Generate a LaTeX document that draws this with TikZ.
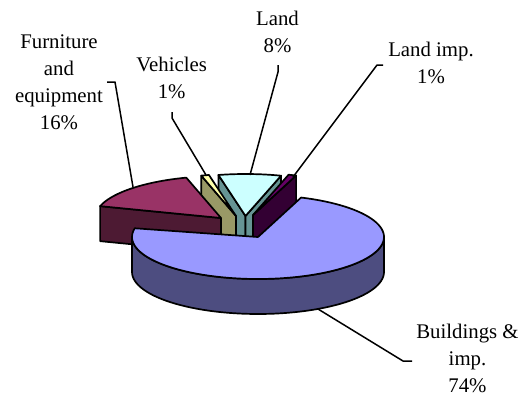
\documentclass[tikz,border=0pt]{standalone}
\usepackage{fontspec}
\setmainfont{Liberation Serif}
\definecolor{bldtop}{RGB}{153,153,255}
\definecolor{bldside}{RGB}{77,77,128}
\definecolor{furtop}{RGB}{153,51,102}
\definecolor{furside}{RGB}{77,26,51}
\definecolor{vehtop}{RGB}{255,255,170}
\definecolor{vehside}{RGB}{153,153,102}
\definecolor{landtop}{RGB}{204,255,255}
\definecolor{landside}{RGB}{102,148,148}
\definecolor{limptop}{RGB}{102,0,102}
\definecolor{limpside}{RGB}{51,0,51}
\tikzset{
  face/.style={draw=black, line width=1.7pt, line join=round},
  leader/.style={draw=black, line width=1.5pt, line join=round},
  lbl/.style={align=center, inner sep=0pt, anchor=north, font=\fontsize{20.8}{27}\selectfont}
}
\begin{document}
\begin{tikzpicture}[x=1pt, y=-1pt]
\useasboundingbox (0,0) rectangle (524,397);
% Land 8%
\begin{scope}[shift={(245.5,216)}]
  \filldraw[face, fill=landside] (0,0) -- ({126*cos(102.4)},{-42*sin(102.4)}) -- ++(0,35) -- (0,35) -- cycle;
  \filldraw[face, fill=landside] (0,0) -- ({126*cos(73.6)},{-42*sin(73.6)}) -- ++(0,35) -- (0,35) -- cycle;
  \filldraw[face, fill=landtop] (0,0) -- plot[domain=73.6:102.4, samples=20] ({126*cos(\x)},{-42*sin(\x)}) -- cycle;
\end{scope}
% Land imp. 1%
\begin{scope}[shift={(253,215)}]
  \filldraw[face, fill=limpside] (0,0) -- ({126*cos(70)},{-42*sin(70)}) -- ++(0,35) -- (0,35) -- cycle;
  \filldraw[face, fill=limptop] (0,0) -- plot[domain=70:73.6, samples=5] ({126*cos(\x)},{-42*sin(\x)}) -- cycle;
\end{scope}
% Vehicles 1%
\begin{scope}[shift={(236,216)}]
  \filldraw[face, fill=vehside] (0,0) -- ({126*cos(106)},{-42*sin(106)}) -- ++(0,35) -- (0,35) -- cycle;
  \filldraw[face, fill=vehtop] (0,0) -- plot[domain=102.4:106, samples=5] ({126*cos(\x)},{-42*sin(\x)}) -- cycle;
\end{scope}
% Furniture and equipment 16%
\begin{scope}[shift={(221,218)}]
  \filldraw[face, fill=furside] (0,0) -- ({126*cos(163.6)},{-42*sin(163.6)}) -- ++(0,35) -- (0,35) -- cycle;
  \filldraw[face, fill=furtop] (0,0) -- plot[domain=106:163.6, samples=30] ({126*cos(\x)},{-42*sin(\x)}) -- cycle;
\end{scope}
% Buildings & imp. 74%
\begin{scope}[shift={(258,237)}]
  \filldraw[face, fill=bldside] plot[domain=180:360, samples=60] ({126*cos(\x)},{-42*sin(\x)})
     -- plot[domain=180:360, samples=60] ({126*cos(540-\x)},{35-42*sin(540-\x)}) -- cycle;
  \filldraw[face, fill=bldtop] (0,0) -- plot[domain=-192:70, samples=90] ({126*cos(\x)},{-42*sin(\x)}) -- cycle;
\end{scope}
% labels
\node[lbl] (furn) at (59,29.4) {\strut Furniture\\and\\equipment\\16\%};
\node[lbl] (veh) at (171.7,52.8) {\strut Vehicles\\1\%};
\node[lbl] (land) at (277.5,6.1) {\strut Land\\8\%};
\node[lbl] (limp) at (431,37.8) {\strut Land imp.\\1\%};
\node[lbl] (bld) at (467.5,319) {\strut Buildings \&\\imp.\\74\%};
% leader coordinates
\coordinate (furnA) at (107,82);
\coordinate (furnB) at (115,82);
\coordinate (furnC) at (133,187);
\coordinate (vehA) at (172,112);
\coordinate (vehB) at (172,118);
\coordinate (vehC) at (206,175);
\coordinate (landA) at (278,65);
\coordinate (landB) at (278,72);
\coordinate (landC) at (250,175);
\coordinate (limpA) at (383,65);
\coordinate (limpB) at (377,65);
\coordinate (limpC) at (293,177);
\coordinate (bldA) at (318,309);
\coordinate (bldB) at (403,361);
\coordinate (bldC) at (412,361);
\draw[leader] (furnA) -- (furnB) -- (furnC);
\draw[leader] (vehA) -- (vehB) -- (vehC);
\draw[leader] (landA) -- (landB) -- (landC);
\draw[leader] (limpA) -- (limpB) -- (limpC);
\draw[leader] (bldA) -- (bldB) -- (bldC);
\end{tikzpicture}
\end{document}
